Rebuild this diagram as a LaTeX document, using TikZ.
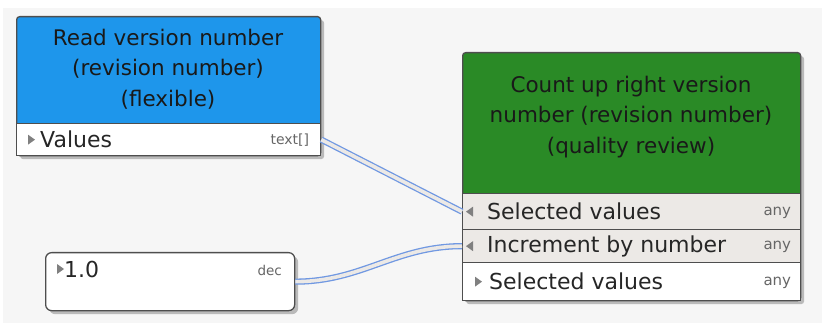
\documentclass[tikz,border=0pt]{standalone}
\usepackage{fontspec}
\setmainfont{DejaVu Sans}
\usepackage{xcolor}
\usepackage{tikz}
\usetikzlibrary{shadows}

\definecolor{canvasgray}{RGB}{246,246,246}
\definecolor{readblue}{RGB}{30,150,235}
\definecolor{countgreen}{RGB}{42,138,38}
\definecolor{rowgray}{RGB}{236,233,230}
\definecolor{boxline}{RGB}{78,78,78}
\definecolor{wireblue}{RGB}{112,152,226}
\definecolor{pingray}{RGB}{128,128,128}

% small port markers
\newcommand{\inpin}[1]{\fill[pingray] (#1) -- ++(7,-5) -- ++(0,10) -- cycle;}
\newcommand{\outpin}[1]{\fill[pingray] (#1) ++(0,-5) -- ++(7,5) -- ++(-7,5) -- cycle;}

\begin{document}
\begin{tikzpicture}[x=1pt, y=-1pt,
  frame/.style={draw=boxline, line width=1.3pt, rounded corners=3pt, inner sep=0pt,
    anchor=north west, drop shadow={shadow xshift=3.5pt, shadow yshift=-3.5pt, opacity=0.5}},
  row/.style={draw=boxline, line width=1.3pt, inner sep=0pt, anchor=north west},
  title/.style={align=center, text=black!90, font=\fontsize{21.5}{30.5}\selectfont},
  portlbl/.style={anchor=west, inner sep=0pt, text=black!85, font=\fontsize{22}{26}\selectfont},
  typelbl/.style={anchor=east, inner sep=0pt, text=black!60, font=\fontsize{15}{18}\selectfont},
  wire/.style={draw=wireblue, line width=1.3pt, double=rowgray, double distance=3.6pt}]
  \useasboundingbox (0,0) rectangle (822,323);
  \fill[canvasgray] (3,8) rectangle (822,323);

  % read block
  \node[frame, fill=readblue, minimum width=304pt, minimum height=139pt] (readbox) at (16,16) {};
  \node[title] (readtitle) at (168,69) {Read version number\\(revision number)\\(flexible)};
  \node[row, fill=white, minimum width=304pt, minimum height=32pt] (readval) at (16,123) {};
  \outpin{[xshift=12pt]readval.west}
  \node[portlbl] (readlbl) at ([xshift=24pt]readval.west) {Values};
  \node[typelbl, font=\fontsize{14}{16}\selectfont] (readtype) at ([xshift=-12pt]readval.east) {text[]};

  % constant block
  \node[frame, fill=white, rounded corners=6pt, minimum width=249pt, minimum height=58pt] (valbox) at (45,252) {};
  \outpin{57,269}
  \node[portlbl] (vallbl) at (64,269) {1.0};
  \node[typelbl, font=\fontsize{13.5}{16}\selectfont] (valtype) at (282,270) {dec};

  % count block
  \node[frame, fill=countgreen, minimum width=338pt, minimum height=248pt] (countbox) at (462,52) {};
  \node[title] (counttitle) at (631,117) {Count up right version\\number (revision number)\\(quality review)};
  \node[row, fill=rowgray, minimum width=338pt, minimum height=36pt] (selin) at (462,193) {};
  \node[row, fill=rowgray, minimum width=338pt, minimum height=33pt] (incr) at (462,229) {};
  \node[row, fill=white, minimum width=338pt, minimum height=38pt] (selout) at (462,262) {};
  \inpin{[xshift=4pt]selin.west}
  \inpin{[xshift=4pt]incr.west}
  \outpin{[xshift=13pt]selout.west}
  \node[portlbl] (selinlbl) at ([xshift=25pt]selin.west) {Selected values};
  \node[portlbl] (incrlbl) at ([xshift=25pt]incr.west) {Increment by number};
  \node[portlbl] (seloutlbl) at ([xshift=27pt]selout.west) {Selected values};
  \node[typelbl] (selintype) at ([xshift=-10pt,yshift=-1pt]selin.east) {any};
  \node[typelbl] (incrtype) at ([xshift=-10pt,yshift=-1pt]incr.east) {any};
  \node[typelbl] (selouttype) at ([xshift=-10pt,yshift=-1pt]selout.east) {any};

  % connections
  \draw[wire] (readval.east) -- (selin.west);
  \draw[wire] (valbox.east) to[out=0, in=180] (incr.west);
\end{tikzpicture}
\end{document}
